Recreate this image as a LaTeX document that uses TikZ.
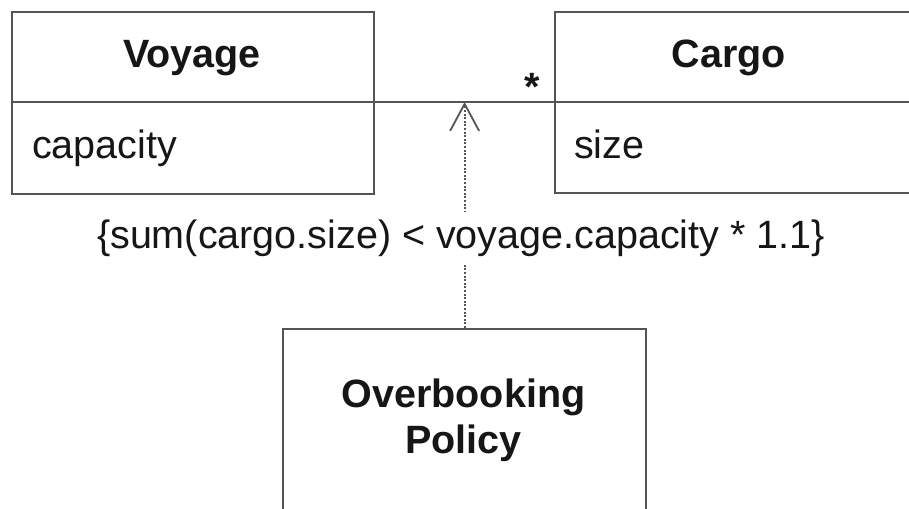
\documentclass[tikz,border=0pt]{standalone}
\usepackage{fontspec}
\setmainfont{Liberation Sans}
\usetikzlibrary{arrows.meta}
\definecolor{linegray}{HTML}{555555}
\definecolor{txt}{HTML}{161616}
\begin{document}
\begin{tikzpicture}[x=1pt,y=-1pt,
  box/.style={draw=linegray,line width=2.2pt,inner sep=0pt,anchor=north west},
  lbl/.style={inner sep=0pt,anchor=base,text=txt,font=\fontsize{39.5}{46}\selectfont},
  ttl/.style={lbl,font=\fontsize{39.5}{46}\selectfont\bfseries},
  attr/.style={lbl,anchor=base west},
  assoc/.style={draw=linegray,line width=2.2pt},
  dep/.style={draw=linegray,line width=2pt,dash pattern=on 2pt off 1.6pt,
    -{Straight Barb[length=27pt,width=29pt,line width=1.8pt]}}]
\useasboundingbox (0,0) rectangle (909,508);
\fill[white] (0,0) rectangle (909,508);
\begin{scope}
\clip (0,0) rectangle (909,508);
% class boxes
\node[box,minimum width=362pt,minimum height=182pt] (voyage) at (11,11) {};
\node[box,minimum width=380pt,minimum height=181pt] (cargo) at (554,11) {};
\node[box,minimum width=363pt,minimum height=220pt] (policy) at (282,328) {};
% association / compartment line
\coordinate (row) at (0,102);
\draw[assoc] (voyage.west |- row) -- (voyage.east |- row);
\draw[assoc] (cargo.west |- row) -- (cargo.east |- row);
\draw[assoc] (voyage.east |- row) -- (cargo.west |- row);
% dependency arrow
\draw[dep] (policy.north) -- (policy.north |- row);
% texts
\node[ttl] (voyagename) at (192,68) {Voyage};
\node[attr] (capacity) at (32,158) {capacity};
\node[ttl] (cargoname) at (729,68) {Cargo};
\node[attr] (size) at (574,158) {size};
\node[ttl] (star) at (532,100) {*};
\node[ttl] (pol1) at (463.5,407) {Overbooking};
\node[ttl] (pol2) at (463.5,453) {Policy};
\node[lbl,fill=white,inner xsep=2pt,inner ysep=7pt] (constraint) at (461,248) {\{sum(cargo.size) < voyage.capacity * 1.1\}};
\end{scope}
\end{tikzpicture}
\end{document}
